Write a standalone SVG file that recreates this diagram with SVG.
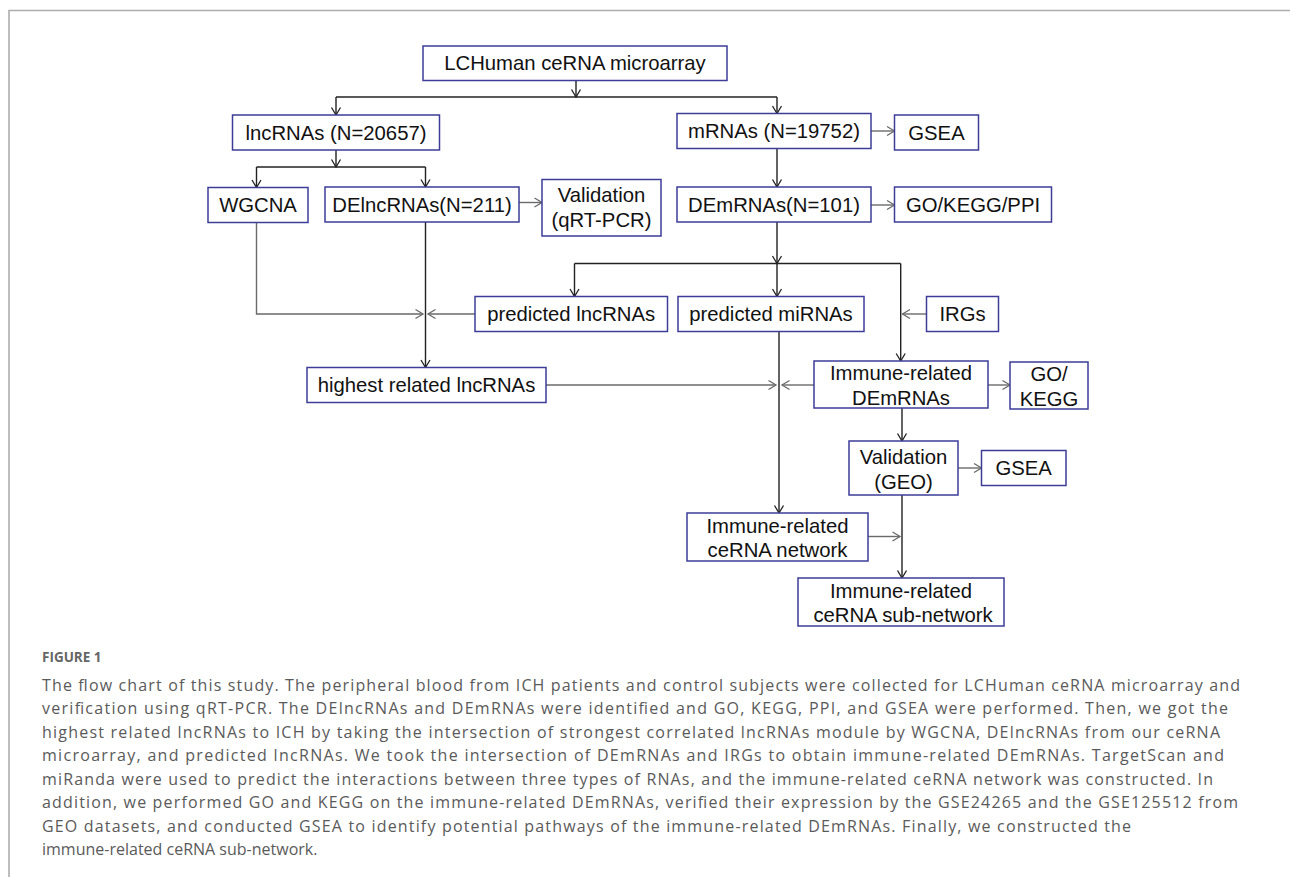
<svg xmlns="http://www.w3.org/2000/svg" width="1290" height="877" viewBox="0 0 1290 877">
<defs>
<style>
.box{fill:#fff;stroke:#3d3d99;stroke-width:1.5}
.t{font-family:"Liberation Sans",Arial,sans-serif;font-size:20.3px;fill:#111;text-anchor:middle}
.dk{fill:none;stroke:#222;stroke-width:1.4}
.gr{fill:none;stroke:#6a6a6a;stroke-width:1.4}
.cap{font-family:"Open Sans","Noto Sans",sans-serif;font-size:16px;fill:#5a5a5a}
.fig{font-family:"Open Sans","Noto Sans",sans-serif;font-size:13.5px;font-weight:700;fill:#666}
</style>
<marker id="ad" markerUnits="userSpaceOnUse" markerWidth="12" markerHeight="12" refX="9" refY="6" orient="auto">
<path d="M1.5,1.5 L9,6 L1.5,10.5" fill="none" stroke="#222" stroke-width="1.3"/>
</marker>
<marker id="ag" markerUnits="userSpaceOnUse" markerWidth="12" markerHeight="12" refX="9" refY="6" orient="auto">
<path d="M1.5,1.5 L9,6 L1.5,10.5" fill="none" stroke="#6a6a6a" stroke-width="1.3"/>
</marker>
</defs>
<rect x="0" y="0" width="1290" height="877" fill="#fff"/>
<path d="M9,877 V10.5 H1290" fill="none" stroke="#adadad" stroke-width="1.6"/>

<g id="connectors">
<path class="dk" d="M576,80.5 V97" marker-end="url(#ad)"/>
<path class="dk" d="M336,97 H777"/>
<path class="dk" d="M336,97 V115" marker-end="url(#ad)"/>
<path class="dk" d="M777,97 V113.5" marker-end="url(#ad)"/>
<path class="dk" d="M336,150 V167" marker-end="url(#ad)"/>
<path class="dk" d="M256.5,167 H425.5"/>
<path class="dk" d="M256.5,167 V187.5" marker-end="url(#ad)"/>
<path class="dk" d="M425.5,167 V187" marker-end="url(#ad)"/>
<path class="gr" d="M519,202.5 H542" marker-end="url(#ag)"/>
<path class="gr" d="M256.5,222.5 V314 H423" marker-end="url(#ag)"/>
<path class="gr" d="M475,314 H428" marker-end="url(#ag)"/>
<path class="dk" d="M425.5,222 V367.5" marker-end="url(#ad)"/>
<path class="gr" d="M871,131 H894.5" marker-end="url(#ag)"/>
<path class="dk" d="M777,148.5 V187" marker-end="url(#ad)"/>
<path class="gr" d="M871,205 H894.5" marker-end="url(#ag)"/>
<path class="dk" d="M777,222 V263.5" marker-end="url(#ad)"/>
<path class="dk" d="M574.5,263.5 H900.7"/>
<path class="dk" d="M574.5,263.5 V296.5" marker-end="url(#ad)"/>
<path class="dk" d="M777,263.5 V296.5" marker-end="url(#ad)"/>
<path class="dk" d="M900.7,263.5 V361" marker-end="url(#ad)"/>
<path class="gr" d="M926.5,314 H902.5" marker-end="url(#ag)"/>
<path class="dk" d="M779,331.5 V513" marker-end="url(#ad)"/>
<path class="gr" d="M546,385 H776" marker-end="url(#ag)"/>
<path class="gr" d="M814,385 H782" marker-end="url(#ag)"/>
<path class="gr" d="M988,385 H1010" marker-end="url(#ag)"/>
<path class="dk" d="M902,408 V441" marker-end="url(#ad)"/>
<path class="gr" d="M958,468 H981.5" marker-end="url(#ag)"/>
<path class="dk" d="M902,495 V578" marker-end="url(#ad)"/>
<path class="gr" d="M868,536.5 H900" marker-end="url(#ag)"/>
</g>

<g id="n-lchuman"><rect class="box" x="423" y="46" width="304" height="34.5"/><text class="t" x="575" y="70.3">LCHuman ceRNA microarray</text></g>
<g id="n-lncrnas"><rect class="box" x="232.5" y="115" width="207" height="35"/><text class="t" x="336" y="139.5">lncRNAs (N=20657)</text></g>
<g id="n-mrnas"><rect class="box" x="677" y="113.5" width="194" height="35"/><text class="t" x="774" y="138">mRNAs (N=19752)</text></g>
<g id="n-gsea1"><rect class="box" x="894.5" y="115" width="84" height="35"/><text class="t" x="936.5" y="139.5">GSEA</text></g>
<g id="n-wgcna"><rect class="box" x="208" y="187.5" width="100" height="35"/><text class="t" x="258" y="212">WGCNA</text></g>
<g id="n-delnc"><rect class="box" x="325" y="187" width="194" height="35"/><text class="t" x="422" y="211.5">DElncRNAs(N=211)</text></g>
<g id="n-valqrt"><rect class="box" x="542" y="179.5" width="119" height="56.5"/><text class="t" x="601.5" y="202">Validation</text><text class="t" x="601.5" y="227">(qRT-PCR)</text></g>
<g id="n-demrnas"><rect class="box" x="677" y="187" width="194" height="35"/><text class="t" x="774" y="211.5">DEmRNAs(N=101)</text></g>
<g id="n-gokeggppi"><rect class="box" x="894.5" y="187" width="157" height="35"/><text class="t" x="973" y="211.5">GO/KEGG/PPI</text></g>
<g id="n-predlnc"><rect class="box" x="475" y="296.5" width="192.5" height="35"/><text class="t" x="571.2" y="321">predicted lncRNAs</text></g>
<g id="n-predmi"><rect class="box" x="678" y="296.5" width="186" height="35"/><text class="t" x="771" y="321">predicted miRNAs</text></g>
<g id="n-irgs"><rect class="box" x="926.5" y="296.5" width="72" height="35"/><text class="t" x="962.5" y="321">IRGs</text></g>
<g id="n-highest"><rect class="box" x="307" y="367.5" width="239" height="35"/><text class="t" x="426.5" y="392">highest related lncRNAs</text></g>
<g id="n-immdem"><rect class="box" x="814" y="361" width="174" height="47"/><text class="t" x="901" y="380">Immune-related</text><text class="t" x="901" y="405">DEmRNAs</text></g>
<g id="n-gokegg"><rect class="box" x="1010" y="362" width="78" height="47"/><text class="t" x="1049" y="380.5">GO/</text><text class="t" x="1049" y="405.5">KEGG</text></g>
<g id="n-valgeo"><rect class="box" x="849" y="441" width="109" height="54"/><text class="t" x="903.5" y="463.5">Validation</text><text class="t" x="903.5" y="488.5">(GEO)</text></g>
<g id="n-gsea2"><rect class="box" x="981.5" y="450.5" width="84.5" height="35"/><text class="t" x="1023.7" y="475">GSEA</text></g>
<g id="n-network"><rect class="box" x="687" y="513" width="181" height="48"/><text class="t" x="777.5" y="532.5">Immune-related</text><text class="t" x="777.5" y="557">ceRNA network</text></g>
<g id="n-subnet"><rect class="box" x="798" y="578" width="206" height="48"/><text class="t" x="901" y="597.5">Immune-related</text><text class="t" x="903" y="622">ceRNA sub-network</text></g>

<g id="caption">
<text class="fig" x="42" y="662">FIGURE 1</text>
<text class="cap" x="42" y="690.5" textLength="1198" lengthAdjust="spacing">The flow chart of this study. The peripheral blood from ICH patients and control subjects were collected for LCHuman ceRNA microarray and</text>
<text class="cap" x="42" y="714" textLength="1186" lengthAdjust="spacing">verification using qRT-PCR. The DElncRNAs and DEmRNAs were identified and GO, KEGG, PPI, and GSEA were performed. Then, we got the</text>
<text class="cap" x="42" y="737.5" textLength="1178" lengthAdjust="spacing">highest related lncRNAs to ICH by taking the intersection of strongest correlated lncRNAs module by WGCNA, DElncRNAs from our ceRNA</text>
<text class="cap" x="42" y="761" textLength="1182" lengthAdjust="spacing">microarray, and predicted lncRNAs. We took the intersection of DEmRNAs and IRGs to obtain immune-related DEmRNAs. TargetScan and</text>
<text class="cap" x="42" y="784.5" textLength="1171" lengthAdjust="spacing">miRanda were used to predict the interactions between three types of RNAs, and the immune-related ceRNA network was constructed. In</text>
<text class="cap" x="42" y="808" textLength="1196" lengthAdjust="spacing">addition, we performed GO and KEGG on the immune-related DEmRNAs, verified their expression by the GSE24265 and the GSE125512 from</text>
<text class="cap" x="42" y="831.5" textLength="1089" lengthAdjust="spacing">GEO datasets, and conducted GSEA to identify potential pathways of the immune-related DEmRNAs. Finally, we constructed the</text>
<text class="cap" x="42" y="855">immune-related ceRNA sub-network.</text>
</g>
</svg>
